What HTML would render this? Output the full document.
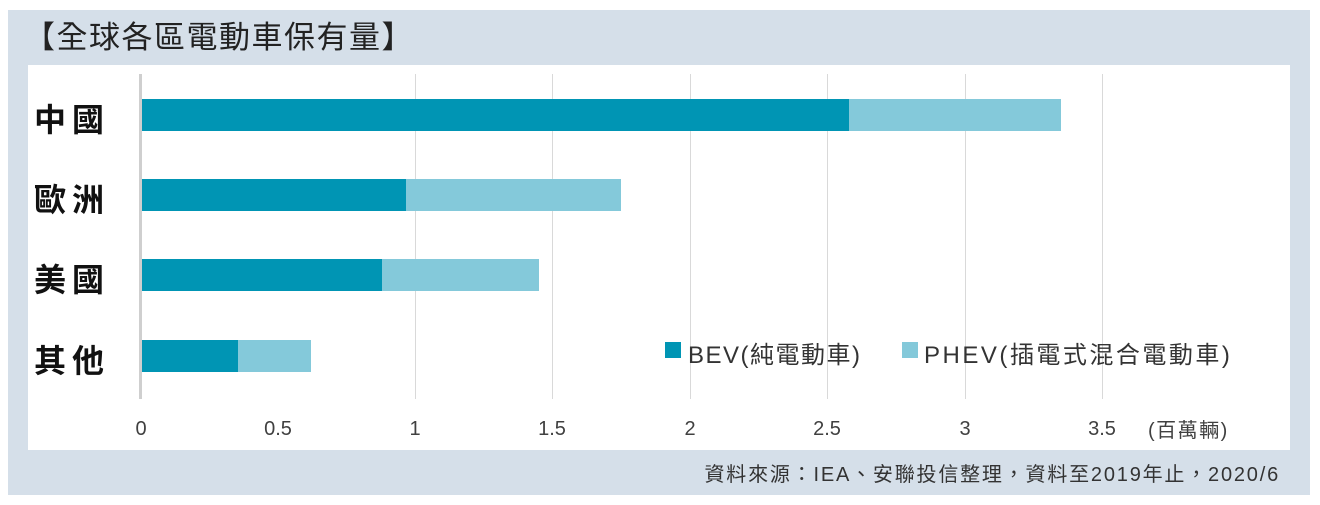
<!DOCTYPE html>
<html><head><meta charset="utf-8"><style>
body{margin:0;width:1320px;height:505px;background:#fff;position:relative;overflow:hidden;font-family:"Liberation Sans","Noto Sans CJK TC",sans-serif}
.a{position:absolute}
.g{position:absolute;top:74px;height:325px;width:1px;background:#d9d9d9}
.t{position:absolute;top:418px;font-size:20px;color:#404040;transform:translateX(-50%)}
.lab{position:absolute;left:34px;font-size:32px;font-weight:bold;color:#111;letter-spacing:6px}
.b1{position:absolute;height:32px;background:#0095b4}
.b2{position:absolute;height:32px;background:#84c9da}
</style></head><body>
<div class="a" style="left:8px;top:10px;width:1302px;height:485px;background:#d5dfe9"></div>
<div class="a" style="left:28px;top:65px;width:1262px;height:385px;background:#fff"></div>
<div class="a" style="left:24px;top:18px;font-size:31px;color:#222;line-height:40px;letter-spacing:1.5px">【全球各區電動車保有量】</div>
<div class="g" style="left:415px"></div><div class="g" style="left:552px"></div><div class="g" style="left:690px"></div><div class="g" style="left:827px"></div><div class="g" style="left:965px"></div><div class="g" style="left:1102px"></div>
<div class="a" style="left:139px;top:74px;width:3px;height:325px;background:#cfcfcf"></div>
<div class="b1" style="left:142px;top:99px;width:707px"></div><div class="b2" style="left:849px;top:99px;width:212px"></div>
<div class="b1" style="left:142px;top:179px;width:264px"></div><div class="b2" style="left:406px;top:179px;width:215px"></div>
<div class="b1" style="left:142px;top:259px;width:240px"></div><div class="b2" style="left:382px;top:259px;width:157px"></div>
<div class="b1" style="left:142px;top:340px;width:96px"></div><div class="b2" style="left:238px;top:340px;width:73px"></div>
<div class="lab" style="top:95px">中國</div>
<div class="lab" style="top:175px">歐洲</div>
<div class="lab" style="top:255px">美國</div>
<div class="lab" style="top:336px">其他</div>
<div class="t" style="left:141px">0</div><div class="t" style="left:278px">0.5</div><div class="t" style="left:415px">1</div><div class="t" style="left:552px">1.5</div><div class="t" style="left:690px">2</div><div class="t" style="left:827px">2.5</div><div class="t" style="left:965px">3</div><div class="t" style="left:1102px">3.5</div>
<div class="a" style="left:1148px;top:414px;font-size:20px;color:#404040;letter-spacing:1.5px">(百萬輛)</div>
<div class="a" style="left:665px;top:342px;width:16px;height:16px;background:#0095b4"></div>
<div class="a" style="left:688px;top:335px;font-size:24px;color:#333;letter-spacing:1.5px">BEV(純電動車)</div>
<div class="a" style="left:902px;top:342px;width:16px;height:16px;background:#84c9da"></div>
<div class="a" style="left:924px;top:335px;font-size:24px;color:#333;letter-spacing:2.5px">PHEV(插電式混合電動車)</div>
<div class="a" style="right:40px;top:458px;font-size:20px;color:#333;letter-spacing:1.8px">資料來源：IEA、安聯投信整理，資料至2019年止，2020/6</div>
</body></html>
